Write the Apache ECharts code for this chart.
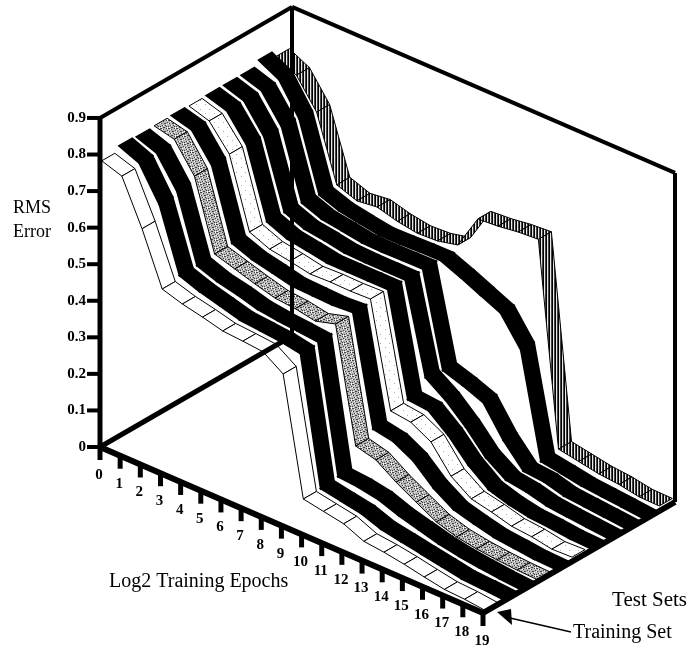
<!DOCTYPE html>
<html>
<head>
<meta charset="utf-8">
<style>
  html, body { margin: 0; padding: 0; background: #fff; }
  #chart { width: 688px; height: 649px; }
</style>
<script src="https://cdn.jsdelivr.net/npm/echarts@6/dist/echarts.min.js"></script>
</head>
<body>
<div id="chart"></div>
<script>
// RMS error, front ribbon first
const trainingSet = [0.78, 0.762, 0.642, 0.501, 0.484, 0.472, 0.458, 0.454, 0.449, 0.412, 0.094, 0.084, 0.074, 0.05, 0.044, 0.035, 0.024, 0.014, 0.011, 0.005];
const testSet1 = [0.793, 0.77, 0.68, 0.51, 0.49, 0.475, 0.46, 0.455, 0.45, 0.44, 0.095, 0.085, 0.075, 0.055, 0.045, 0.035, 0.025, 0.015, 0.012, 0.008];
const testSet2 = [0.79, 0.77, 0.69, 0.51, 0.49, 0.478, 0.462, 0.455, 0.45, 0.445, 0.1, 0.095, 0.085, 0.065, 0.05, 0.035, 0.025, 0.018, 0.012, 0.008];
const testSet3 = [0.793, 0.78, 0.703, 0.514, 0.497, 0.48, 0.465, 0.46, 0.45, 0.466, 0.156, 0.142, 0.105, 0.074, 0.044, 0.027, 0.018, 0.012, 0.008, 0.006];
const testSet4 = [0.793, 0.778, 0.705, 0.516, 0.495, 0.483, 0.47, 0.468, 0.466, 0.47, 0.175, 0.165, 0.135, 0.085, 0.05, 0.035, 0.022, 0.016, 0.01, 0.008];
const testSet5 = [0.792, 0.775, 0.708, 0.519, 0.496, 0.487, 0.476, 0.478, 0.477, 0.479, 0.197, 0.19, 0.16, 0.09, 0.052, 0.04, 0.025, 0.02, 0.01, 0.012];
const testSet6 = [0.793, 0.776, 0.705, 0.52, 0.497, 0.488, 0.478, 0.478, 0.478, 0.478, 0.2, 0.195, 0.15, 0.092, 0.05, 0.033, 0.022, 0.018, 0.012, 0.01];
const testSet7 = [0.793, 0.775, 0.7, 0.518, 0.496, 0.488, 0.478, 0.476, 0.476, 0.476, 0.233, 0.195, 0.145, 0.085, 0.048, 0.04, 0.026, 0.02, 0.015, 0.01];
const testSet8 = [0.793, 0.775, 0.7, 0.516, 0.495, 0.487, 0.478, 0.477, 0.478, 0.479, 0.225, 0.207, 0.185, 0.105, 0.045, 0.04, 0.025, 0.02, 0.015, 0.01];
const testSet9 = [0.807, 0.778, 0.695, 0.51, 0.49, 0.48, 0.471, 0.472, 0.474, 0.475, 0.452, 0.427, 0.402, 0.325, 0.044, 0.035, 0.025, 0.02, 0.015, 0.01];
const testSet10 = [0.79, 0.762, 0.685, 0.51, 0.49, 0.497, 0.482, 0.473, 0.476, 0.489, 0.584, 0.588, 0.596, 0.6, 0.05, 0.04, 0.03, 0.025, 0.015, 0.014];

const ribbons = [trainingSet, testSet1, testSet2, testSet3, testSet4, testSet5, testSet6, testSet7, testSet8, testSet9, testSet10];
const ribbonLooks = ["white", "black", "black", "stipple", "black", "dots", "black", "black", "black", "black", "hatch"];
const epochLabels = ["0", "1", "2", "3", "4", "5", "6", "7", "8", "9", "10", "11", "12", "13", "14", "15", "16", "17", "18", "19"];
const errorLabels = ["0", "0.1", "0.2", "0.3", "0.4", "0.5", "0.6", "0.7", "0.8", "0.9"];

// oblique projection of the box
const boxOrigin = [100, 447];
const epochStep = [383 / 19, 166 / 19];
const depthVec = [192, -111];
const errorScale = 365.6;
const ribbonWidth = 0.068;

function project(epoch, depth, err) {
  return [
    boxOrigin[0] + epoch * epochStep[0] + depth * depthVec[0],
    boxOrigin[1] + epoch * epochStep[1] + depth * depthVec[1] - err * errorScale,
  ];
}

function makePattern(w, h, draw) {
  const c = document.createElement("canvas");
  c.width = w;
  c.height = h;
  draw(c.getContext("2d"));
  return { image: c, repeat: "repeat" };
}

const hatchFill = makePattern(3, 2, function (g) {
  g.fillStyle = "#e8e8e8";
  g.fillRect(0, 0, 3, 2);
  g.fillStyle = "#000";
  g.fillRect(0, 0, 1, 2);
  g.fillStyle = "#444";
  g.fillRect(2, 0, 1, 2);
});

const stippleDots = [[0, 0], [1, 0], [3, 1], [6, 0], [1, 3], [4, 3], [5, 3], [7, 2], [2, 5], [5, 5], [0, 6], [3, 7], [4, 7], [6, 6]];
const stippleLights = [[2, 1], [7, 0], [0, 3], [6, 4], [3, 5], [1, 7], [7, 7]];
const stippleFill = makePattern(8, 8, function (g) {
  g.fillStyle = "#b8b8b8";
  g.fillRect(0, 0, 8, 8);
  g.fillStyle = "#444";
  stippleDots.forEach(function (p) {
    g.fillRect(p[0], p[1], 1, 1);
  });
  g.fillStyle = "#fff";
  stippleLights.forEach(function (p) {
    g.fillRect(p[0], p[1], 1, 1);
  });
});

const dotsFill = makePattern(9, 9, function (g) {
  g.fillStyle = "#fff";
  g.fillRect(0, 0, 9, 9);
  g.fillStyle = "#aaa";
  g.fillRect(2, 1, 1, 1);
  g.fillRect(7, 5, 1, 1);
});

const looks = {
  white: { fill: "#fff", stroke: "#000", lineWidth: 1 },
  black: { fill: "#000", stroke: "#000", lineWidth: 2 },
  stipple: { fill: stippleFill, stroke: "#000", lineWidth: 1 },
  dots: { fill: dotsFill, stroke: "#000", lineWidth: 1 },
  hatch: { fill: hatchFill, stroke: "#000", lineWidth: 1 },
};

// one row per segment, back ribbon first so the front ones paint over it
const segmentRows = [];
for (let k = ribbons.length - 1; k >= 0; k--) {
  for (let e = 0; e < epochLabels.length - 1; e++) {
    segmentRows.push([k, e, ribbons[k][e], ribbons[k][e + 1]]);
  }
}

function renderSegment(params, api) {
  const k = api.value(0);
  const e = api.value(1);
  const a = api.value(2);
  const b = api.value(3);
  const d0 = (k + 0.1) / ribbons.length;
  const d1 = d0 + ribbonWidth;
  const pts = [
    project(e, d0, a),
    project(e, d1, a),
    project(e + 1, d1, b),
    project(e + 1, d0, b),
  ].map(function (p) {
    return api.coord(p);
  });
  return {
    type: "polygon",
    shape: { points: pts },
    style: looks[ribbonLooks[k]],
  };
}

// box edges: from [epoch, depth, err] to [epoch, depth, err], width
const topErr = 0.9;
const lastEpoch = epochLabels.length - 1;
const frameEdges = [
  [[0, 0, 0], [0, 0, topErr], 5],
  [[0, 0, topErr], [0, 1, topErr], 4],
  [[0, 1, topErr], [lastEpoch, 1, topErr], 4],
  [[0, 1, 0], [0, 1, topErr], 4],
  [[lastEpoch, 1, 0], [lastEpoch, 1, topErr], 4],
  [[0, 0, 0], [0, 1, 0], 5],
  [[0, 0, 0], [lastEpoch, 0, 0], 6],
  [[lastEpoch, 0, 0], [lastEpoch, 1, 0], 6],
];

function lineItem(api, a, b, w) {
  const p = api.coord(a);
  const q = api.coord(b);
  return {
    type: "line",
    shape: { x1: p[0], y1: p[1], x2: q[0], y2: q[1] },
    style: { stroke: "#000", lineWidth: w },
  };
}

function renderFrame(params, api) {
  const edge = frameEdges[api.value(0)];
  return lineItem(api, project(edge[0][0], edge[0][1], edge[0][2]), project(edge[1][0], edge[1][1], edge[1][2]), edge[2]);
}

function renderEpochTick(params, api) {
  const e = api.value(0);
  const p = project(e, 0, 0);
  const q = [p[0], p[1] + 13];
  const t = api.coord([p[0] - 1, p[1] + 28]);
  return {
    type: "group",
    children: [
      lineItem(api, p, q, 5),
      {
        type: "text",
        style: {
          text: epochLabels[e],
          x: t[0],
          y: t[1],
          fill: "#000",
          font: "bold 15px 'Liberation Serif'",
          textAlign: "center",
          textVerticalAlign: "middle",
        },
      },
    ],
  };
}

function renderErrorTick(params, api) {
  const i = api.value(0);
  const p = project(0, 0, i / 10);
  const q = [p[0] - 13, p[1]];
  const t = api.coord([p[0] - 14, p[1]]);
  return {
    type: "group",
    children: [
      lineItem(api, p, q, 4),
      {
        type: "text",
        style: {
          text: errorLabels[i],
          x: t[0],
          y: t[1],
          fill: "#000",
          font: "bold 15px 'Liberation Serif'",
          textAlign: "right",
          textVerticalAlign: "middle",
        },
      },
    ],
  };
}

function titleText(text, x, y, align, size) {
  return {
    type: "text",
    x: x,
    y: y,
    style: {
      text: text,
      fill: "#000",
      font: size + "px 'Liberation Serif'",
      textAlign: align,
      textVerticalAlign: "middle",
    },
  };
}

const myChart = echarts.init(document.getElementById("chart"), null, { renderer: "canvas" });

const option = {
  animation: false,
  backgroundColor: "#fff",
  grid: { left: 0, right: 0, top: 0, bottom: 0 },
  xAxis: { type: "value", min: 0, max: 688, show: false },
  yAxis: { type: "value", min: 0, max: 649, inverse: true, show: false },
  series: [
    {
      type: "custom",
      coordinateSystem: "cartesian2d",
      clip: false,
      z: 2,
      encode: { x: 1, y: 2 },
      renderItem: renderSegment,
      data: segmentRows,
    },
    {
      type: "custom",
      coordinateSystem: "cartesian2d",
      clip: false,
      z: 3,
      encode: { x: 0 },
      renderItem: renderFrame,
      data: frameEdges.map(function (_, i) {
        return [i];
      }),
    },
    {
      type: "custom",
      coordinateSystem: "cartesian2d",
      clip: false,
      z: 3,
      encode: { x: 0 },
      renderItem: renderEpochTick,
      data: epochLabels.map(function (_, i) {
        return [i];
      }),
    },
    {
      type: "custom",
      coordinateSystem: "cartesian2d",
      clip: false,
      z: 3,
      encode: { x: 0 },
      renderItem: renderErrorTick,
      data: errorLabels.map(function (_, i) {
        return [i];
      }),
    },
  ],
  graphic: [
    titleText("RMS", 51, 208, "right", 18),
    titleText("Error", 51, 232, "right", 18),
    titleText("Log2 Training Epochs", 109, 582, "left", 20),
    titleText("Test Sets", 687, 600, "right", 21),
    titleText("Training Set", 573, 633, "left", 20),
    {
      type: "line",
      shape: { x1: 571, y1: 632, x2: 510, y2: 618 },
      style: { stroke: "#000", lineWidth: 1.5 },
    },
    {
      type: "polygon",
      shape: { points: [[497, 612], [511, 609], [512, 625]] },
      style: { fill: "#000" },
    },
  ],
};

myChart.setOption(option);
</script>
</body>
</html>
